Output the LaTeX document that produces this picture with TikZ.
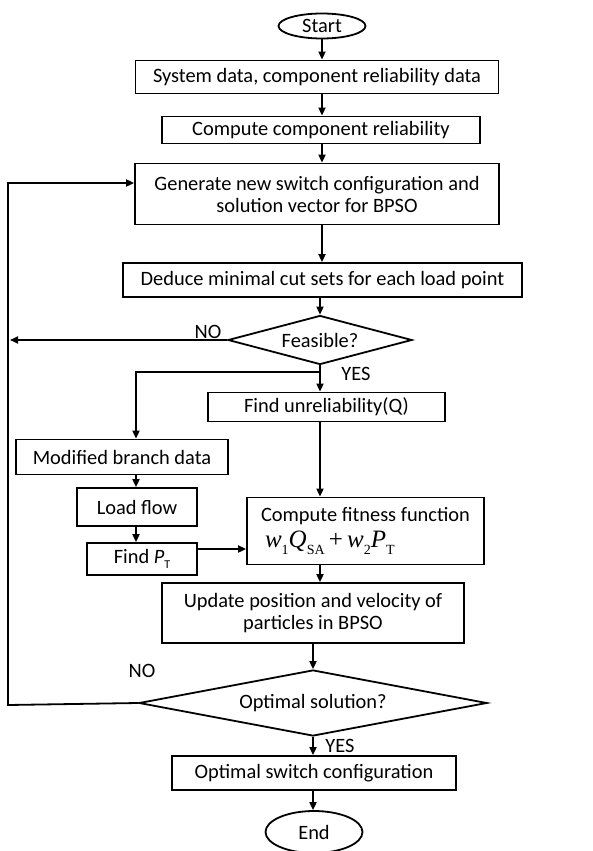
\documentclass[tikz,border=0pt]{standalone}
\usepackage{fontspec}
\setmainfont{Carlito}
\newfontfamily\timesf{Liberation Serif}
\usetikzlibrary{arrows.meta,shapes.geometric}
\begin{document}
\begin{tikzpicture}[x=1pt,y=-1pt,line width=1.8pt,
  txt/.style={font=\fontsize{20.4}{22}\selectfont},
  box/.style={draw,rectangle,inner sep=0pt,align=center,txt},
  term/.style={draw,ellipse,inner sep=0pt,txt},
  dec/.style={draw,diamond,inner sep=0pt,txt},
  arr/.style={-{Triangle[length=8pt,width=7pt]}},
  lbl/.style={txt,inner sep=0pt}]
\useasboundingbox (0,0) rectangle (592,851);
% nodes
\node[term,minimum width=87pt,minimum height=25pt] (start) at (322,26) {Start};
\node[box,minimum width=363pt,minimum height=33pt] (b1) at (317,77) {System data, component reliability data};
\node[box,minimum width=318pt,minimum height=27pt] (b2) at (321,130) {Compute component reliability};
\node[box,minimum width=364pt,minimum height=61pt] (b3) at (317,194) {Generate new switch configuration and\\solution vector for BPSO};
\node[box,minimum width=399pt,minimum height=34pt] (b4) at (322.5,280) {Deduce minimal cut sets for each load point};
\node[dec,aspect=3.75,minimum width=184pt,minimum height=49pt] (d1) at (320,340) {Feasible?};
\node[box,minimum width=237pt,minimum height=29pt] (fu) at (326.5,407) {Find unreliability(Q)};
\node[box,minimum width=212pt,minimum height=35pt] (mb) at (122,457) {Modified branch data};
\node[box,minimum width=120pt,minimum height=38pt] (lf) at (137,507) {Load flow};
\node[box,minimum width=110pt,minimum height=32pt] (pt) at (142,559) {Find \textit{P}\raisebox{-0.25em}{\fontsize{12}{12}\selectfont T}};
\node[box,minimum width=237pt,minimum height=67pt,align=left] (fit) at (365.5,531) {Compute fitness function\\[4pt]
  \hspace*{4pt}{\timesf\fontsize{25}{25}\selectfont \textit{w}\raisebox{-0.3em}{\fontsize{14}{14}\selectfont 1}\textit{Q}\raisebox{-0.3em}{\fontsize{14}{14}\selectfont SA}\,+\,\textit{w}\raisebox{-0.3em}{\fontsize{14}{14}\selectfont 2}\textit{P}\raisebox{-0.3em}{\fontsize{14}{14}\selectfont T}}};
\node[box,minimum width=302pt,minimum height=60pt] (upd) at (313,613) {Update position and velocity of\\particles in BPSO};
\node[dec,aspect=5.27,minimum width=348pt,minimum height=66pt] (d2) at (313,703) {Optimal solution?};
\node[box,minimum width=284pt,minimum height=34pt] (fin) at (314,773) {Optimal switch configuration};
\node[term,minimum width=97pt,minimum height=42pt] (end) at (314,832) {End};
% labels
\node[lbl] (no1) at (208,332) {NO};
\node[lbl] (yes1) at (356,374) {YES};
\node[lbl] (no2) at (142,671) {NO};
\node[lbl] (yes2) at (340,746) {YES};
% coordinates
\coordinate (lt) at (8,183);
\coordinate (lb) at (8,705);
\coordinate (br) at (320,372);
\coordinate (bx) at (136,372);
\coordinate (nx) at (10,340);
% connectors
\draw[arr] (start.south) -- (start.south |- b1.north);
\draw[arr] (b1.south -| start.south) -- (b2.north -| start.south);
\draw[arr] (b2.south -| start.south) -- (b3.north -| start.south);
\draw[arr] (b3.south -| start.south) -- (b4.north -| start.south);
\draw[arr] (b4.south -| d1.north) -- (d1.north);
\draw[arr] (d1.west) -- (nx);
\draw[arr] (d1.south) -- (d1.south |- fu.north);
\draw[arr] (br) -- (bx) -- (bx |- mb.north);
\draw[arr] (bx |- mb.south) -- (bx |- lf.north);
\draw[arr] (bx |- lf.south) -- (bx |- pt.north);
\draw[arr] ([yshift=10pt]pt.east) -- ([yshift=10pt]pt.east -| fit.west);
\draw[arr] (fu.south -| d1.south) -- (fit.north -| d1.south);
\draw[arr] (fit.south -| d1.south) -- (upd.north -| d1.south);
\draw[arr] (upd.south) -- (d2.north);
\draw[arr] (d2.south) -- (d2.south |- fin.north);
\draw[arr] (fin.south -| d2.south) -- (end.north -| d2.south);
\draw[arr] (d2.west) -- (lb) -- (lt) -- (lt -| b3.west);
\end{tikzpicture}
\end{document}
